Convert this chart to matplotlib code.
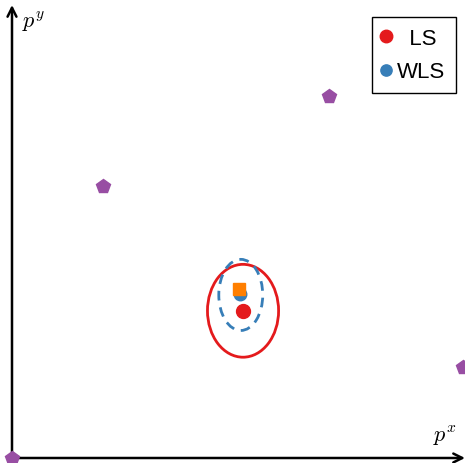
import matplotlib
matplotlib.use("Agg")
import matplotlib.pyplot as plt
from matplotlib.patches import Ellipse

plt.rcParams['mathtext.fontset'] = 'cm'

# data
anchors_x = [0.0, 2.0, 7.0, 9.95]
anchors_y = [0.0, 6.0, 8.0, 2.0]
true_pos = (5.0, 3.72)
ls_est = (5.1, 3.25)
wls_est = (5.03, 3.62)
ls_ell = (1.57, 2.05)   # width, height
wls_ell = (0.97, 1.57)
wls_center = (5.05, 3.6)
labels = ['LS', 'WLS']

fig = plt.figure(figsize=(4.65, 4.64), dpi=100)
ax = fig.add_axes([0, 0, 1, 1])
ax.set_xlim(-12/45.3, 453/45.3)
ax.set_ylim(-5/45.3, 459/45.3)
ax.axis('off')

# axes arrows
ax.annotate('', xy=(10.0, 0), xytext=(0, 0),
            arrowprops=dict(arrowstyle='->', lw=1.8, color='black', mutation_scale=16, shrinkA=0, shrinkB=0))
ax.annotate('', xy=(0, 10.0), xytext=(0, 0),
            arrowprops=dict(arrowstyle='->', lw=1.8, color='black', mutation_scale=16, shrinkA=0, shrinkB=0))
ax.text(0.22, 9.65, r'$p^y$', fontsize=16, ha='left', va='center')
ax.text(9.3, 0.5, r'$p^x$', fontsize=16, ha='left', va='center')

ax.plot(anchors_x, anchors_y, 'p', color='#984ea3', ms=10, clip_on=False, zorder=5)

ax.add_patch(Ellipse(ls_est, ls_ell[0], ls_ell[1], fill=False, ec='#e41a1c', lw=2))
ax.add_patch(Ellipse(wls_center, wls_ell[0], wls_ell[1], fill=False, ec='#377eb8', lw=2, ls=(0, (3.5, 2.5))))

ax.plot(*ls_est, 'o', color='#e41a1c', ms=10, label='  ' + labels[0])
ax.plot(*wls_est, 'o', color='#377eb8', ms=9, label=labels[1])
ax.plot(*true_pos, 's', color='#ff7f00', ms=8)

leg = ax.legend(loc='upper right', bbox_to_anchor=(456/465, 1 - 18/464),
                prop=dict(family=['Liberation Sans', 'DejaVu Sans'], size=16),
                frameon=True, fancybox=False, edgecolor='black', framealpha=1,
                handletextpad=0.4, borderpad=0.5, handlelength=0.2, labelspacing=0.55,
                borderaxespad=0, markerscale=0.9)
leg.get_frame().set_linewidth(1.0)

fig.savefig('out.png', dpi=100)
